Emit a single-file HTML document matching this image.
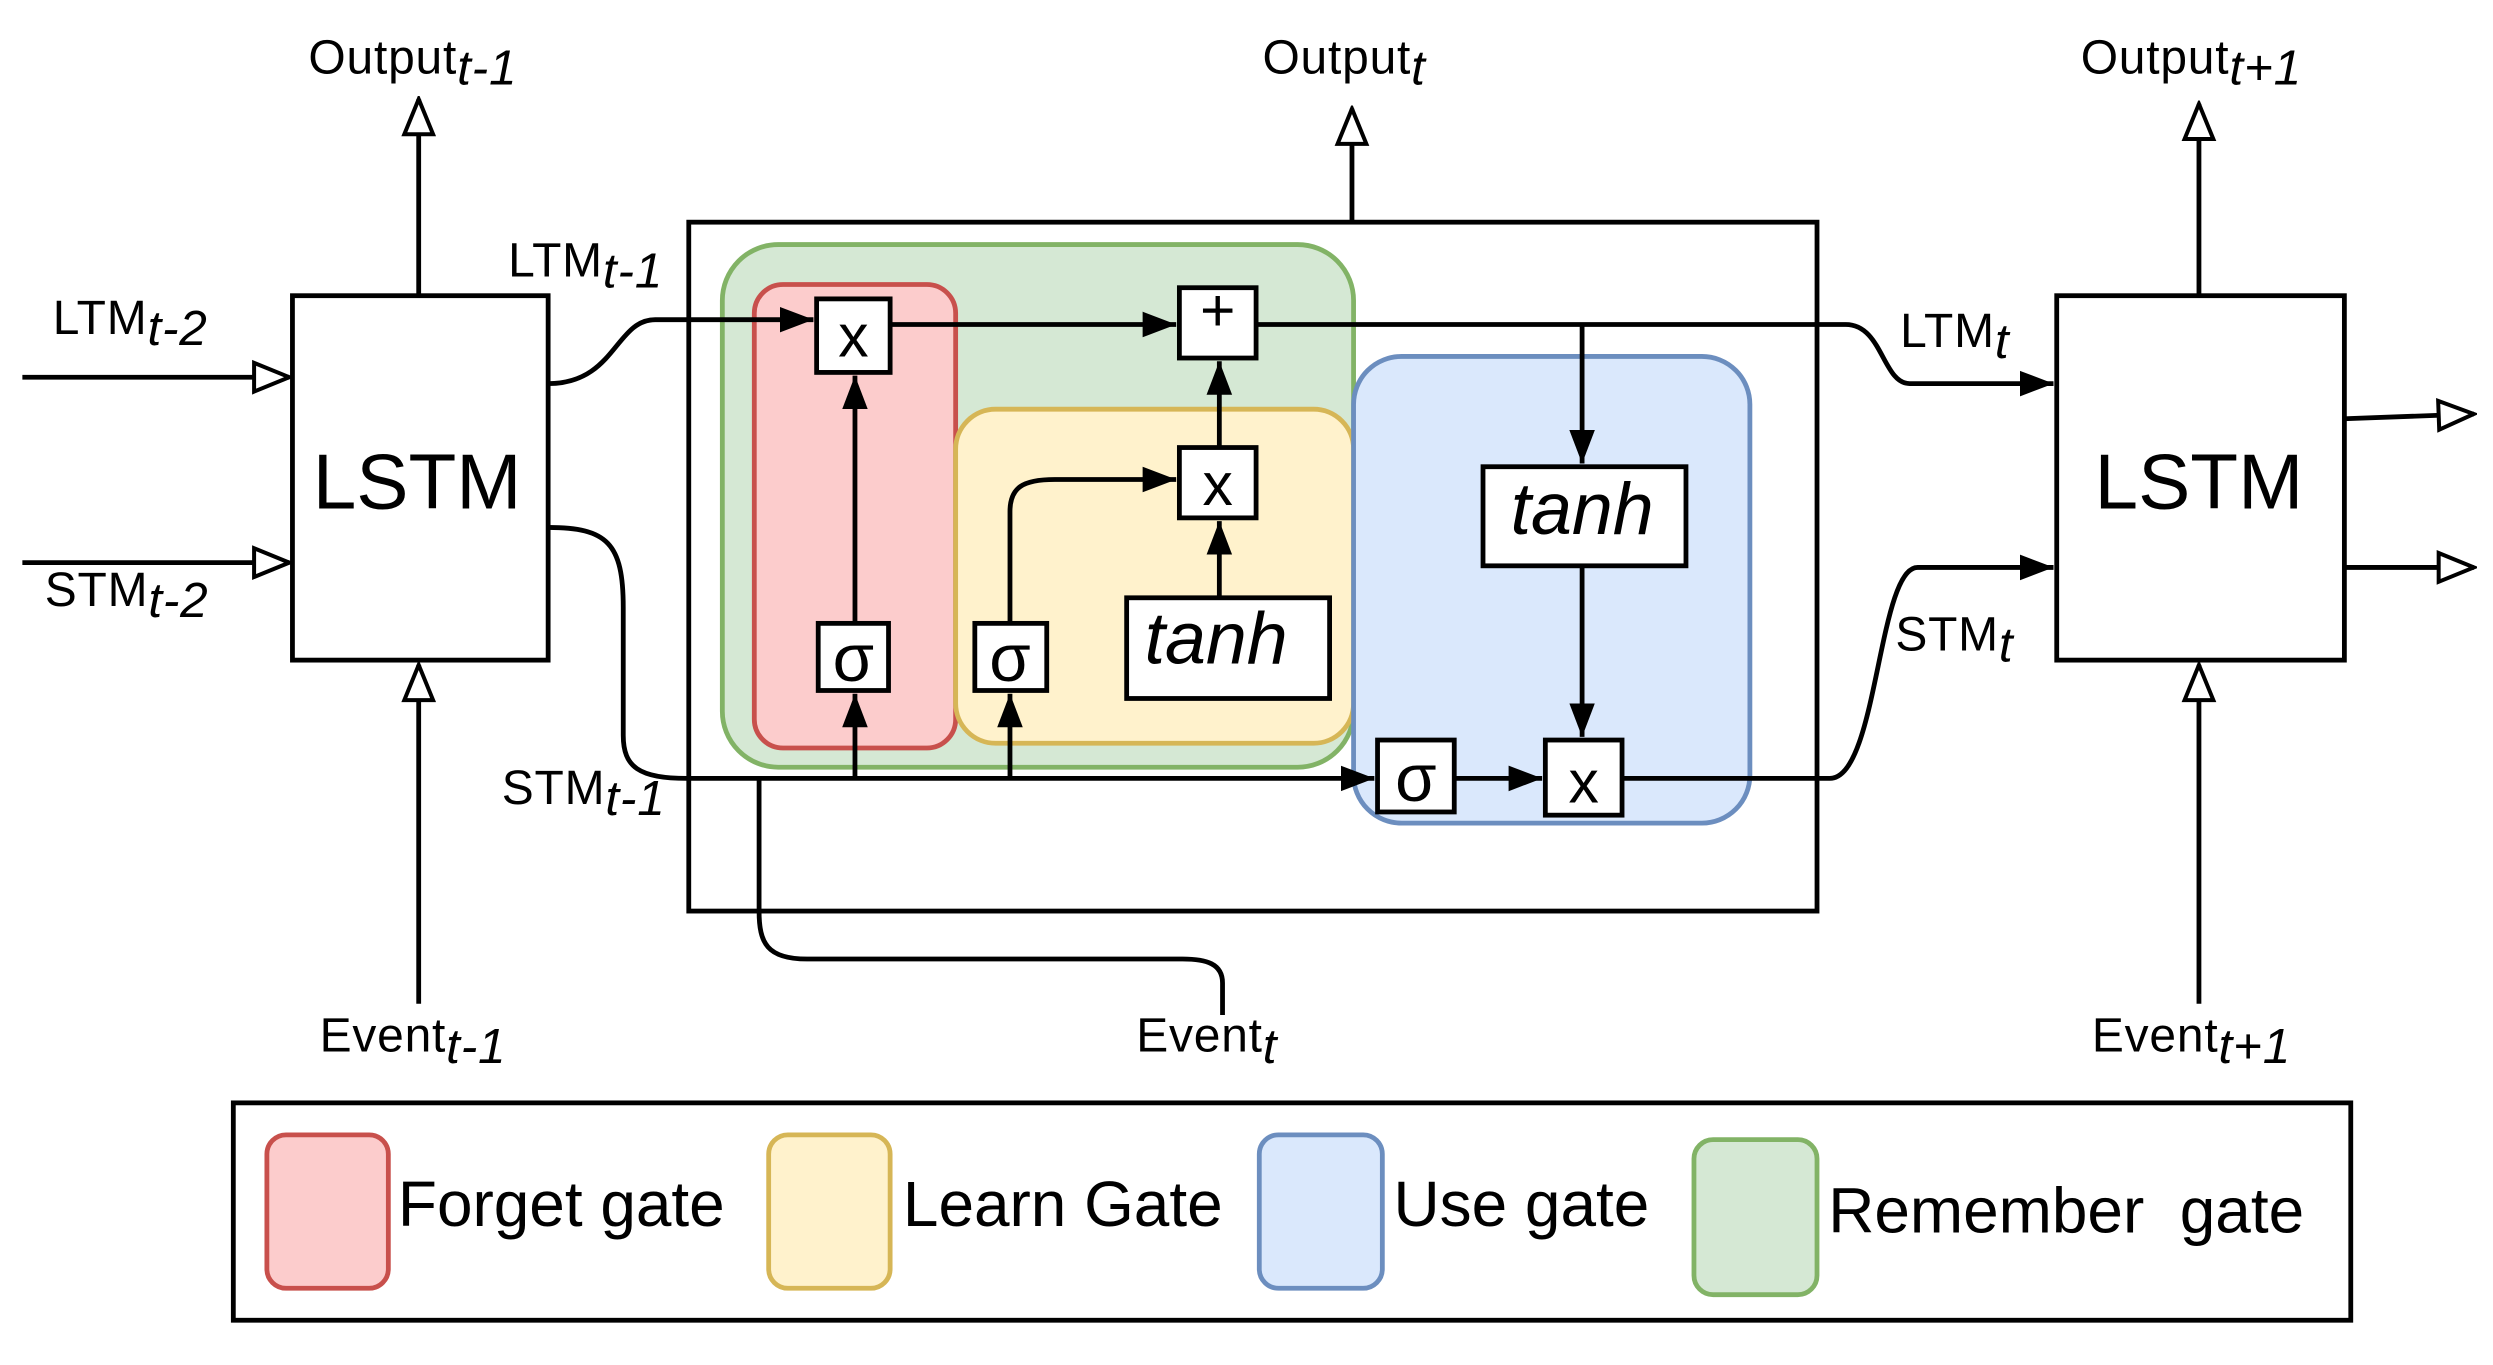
<!DOCTYPE html>
<html><head><meta charset="utf-8"><style>
html,body{margin:0;padding:0;background:#fff;}
svg{display:block;}
text{font-family:"Liberation Sans",sans-serif;fill:#000;}
</style></head><body>
<svg width="2493" height="1365" viewBox="0 0 1560 854" preserveAspectRatio="none" xmlns="http://www.w3.org/2000/svg">
<defs>
<marker id="fa" markerWidth="22" markerHeight="18" refX="21" refY="9" orient="auto" markerUnits="userSpaceOnUse"><path d="M0,1 L21,9 L0,17 z" fill="#000"/></marker>
<marker id="h" markerWidth="26" markerHeight="22" refX="24" refY="11" orient="auto" markerUnits="userSpaceOnUse"><path d="M2,2 L24,11 L2,20 z" fill="#fff" stroke="#000" stroke-width="2.5"/></marker>
</defs>
<g stroke="#000" stroke-width="3" fill="none">
<rect x="431" y="139" width="706" height="431" />
</g>
<rect x="452" y="153" width="395" height="327" rx="35" fill="#d5e8d4" stroke="#82b366" stroke-width="3"/>
<rect x="472" y="178" width="126" height="290" rx="18" fill="#fccccc" stroke="#c8504c" stroke-width="3"/>
<rect x="598" y="256" width="249" height="209" rx="25" fill="#fff2cc" stroke="#d6b656" stroke-width="3"/>
<rect x="847" y="223" width="248" height="292" rx="30" fill="#dae8fc" stroke="#6c8ebf" stroke-width="3"/>
<g stroke="#000" stroke-width="3" fill="none">
<rect x="183" y="185" width="160" height="228" fill="#fff"/>
<rect x="1287" y="185" width="180" height="228" fill="#fff"/>
<path d="M343,240 C385,240 385,200 410,200 L509,200" marker-end="url(#fa)"/>
<path d="M557,203 L736,203" marker-end="url(#fa)"/>
<path d="M786,203 L1155,203 C1178,203 1178,240 1195,240 L1285,240" marker-end="url(#fa)"/>
<path d="M990,203 L990,290" marker-end="url(#fa)"/>
<path d="M990,354 L990,461" marker-end="url(#fa)"/>
<path d="M1015,487 L1145,487 C1175,487 1175,355 1200,355 L1285,355" marker-end="url(#fa)"/>
<path d="M343,330 C380,330 390,340 390,380 L390,460 C390,480 400,487 430,487 L860,487" marker-end="url(#fa)"/>
<path d="M910,487 L965,487" marker-end="url(#fa)"/>
<path d="M535,487 L535,434" marker-end="url(#fa)"/>
<path d="M535,390 L535,235" marker-end="url(#fa)"/>
<path d="M632,487 L632,434" marker-end="url(#fa)"/>
<path d="M632,390 L632,320 C632,305 640,300 660,300 L736,300" marker-end="url(#fa)"/>
<path d="M763,374 L763,326" marker-end="url(#fa)"/>
<path d="M763,280 L763,226" marker-end="url(#fa)"/>
<path d="M765,635 L765,615 C765,603 755,600 740,600 L505,600 C480,600 475,590 475,570 L475,487"/>
<path d="M262,185 L262,62" marker-end="url(#h)"/>
<path d="M846,139 L846,68" marker-end="url(#h)"/>
<path d="M1376,185 L1376,65" marker-end="url(#h)"/>
<path d="M262,628 L262,416" marker-end="url(#h)"/>
<path d="M1376,628 L1376,416" marker-end="url(#h)"/>
<path d="M14,236 L181,236" marker-end="url(#h)"/>
<path d="M14,352 L181,352" marker-end="url(#h)"/>
<path d="M1467,262 L1548,259" marker-end="url(#h)"/>
<path d="M1467,355 L1548,355" marker-end="url(#h)"/>
<rect x="511" y="187" width="46" height="46" fill="#fff"/>
<rect x="738" y="180" width="48" height="44" fill="#fff"/>
<rect x="738" y="280" width="48" height="44" fill="#fff"/>
<rect x="512" y="390" width="44" height="42" fill="#fff"/>
<rect x="610" y="390" width="45" height="42" fill="#fff"/>
<rect x="705" y="374" width="127" height="63" fill="#fff"/>
<rect x="928" y="292" width="127" height="62" fill="#fff"/>
<rect x="862" y="463" width="48" height="45" fill="#fff"/>
<rect x="967" y="463" width="48" height="47" fill="#fff"/>
<rect x="146" y="690" width="1325" height="136"/>
</g>
<rect x="167" y="710" width="76" height="96" rx="12" fill="#fccccc" stroke="#c8504c" stroke-width="3"/>
<rect x="481" y="710" width="76" height="96" rx="12" fill="#fff2cc" stroke="#d6b656" stroke-width="3"/>
<rect x="788" y="710" width="77" height="96" rx="12" fill="#dae8fc" stroke="#6c8ebf" stroke-width="3"/>
<rect x="1060" y="713" width="77" height="97" rx="12" fill="#d5e8d4" stroke="#82b366" stroke-width="3"/>
<g text-anchor="middle">
<text x="261" y="318" font-size="49">LSTM</text>
<text x="1376" y="318" font-size="49">LSTM</text>
<text x="534" y="223" font-size="38">x</text>
<text x="762" y="207" font-size="38">+</text>
<text x="762" y="316" font-size="38">x</text>
<text x="534" y="426" font-size="42">σ</text>
<text x="632" y="426" font-size="42">σ</text>
<text x="886" y="501" font-size="42">σ</text>
<text x="991" y="502" font-size="38">x</text>
<text x="761" y="415" font-size="46" font-style="italic">tanh</text>
<text x="990" y="334" font-size="46" font-style="italic">tanh</text>
</g>
<g font-size="30" letter-spacing="0.5">
<text x="193" y="46">Output<tspan font-style="italic" font-size="31" dy="7">t-1</tspan></text>
<text x="790" y="46">Output<tspan font-style="italic" font-size="31" dy="7">t</tspan></text>
<text x="1302" y="46">Output<tspan font-style="italic" font-size="31" dy="7">t+1</tspan></text>
<text x="33" y="209">LTM<tspan font-style="italic" font-size="31" dy="7">t-2</tspan></text>
<text x="28" y="379">STM<tspan font-style="italic" font-size="31" dy="7">t-2</tspan></text>
<text x="318" y="173">LTM<tspan font-style="italic" font-size="31" dy="7">t-1</tspan></text>
<text x="314" y="503">STM<tspan font-style="italic" font-size="31" dy="7">t-1</tspan></text>
<text x="1189" y="217">LTM<tspan font-style="italic" font-size="31" dy="7">t</tspan></text>
<text x="1186" y="407">STM<tspan font-style="italic" font-size="31" dy="7">t</tspan></text>
<text x="200" y="658">Event<tspan font-style="italic" font-size="31" dy="7">t-1</tspan></text>
<text x="711" y="658">Event<tspan font-style="italic" font-size="31" dy="7">t</tspan></text>
<text x="1309" y="658">Event<tspan font-style="italic" font-size="31" dy="7">t+1</tspan></text>
</g>
<g font-size="40">
<text x="249" y="767">Forget gate</text>
<text x="565" y="767">Learn Gate</text>
<text x="872" y="767">Use gate</text>
<text x="1144" y="771" xml:space="preserve">Remember  gate</text>
</g>
</svg>
</body></html>
